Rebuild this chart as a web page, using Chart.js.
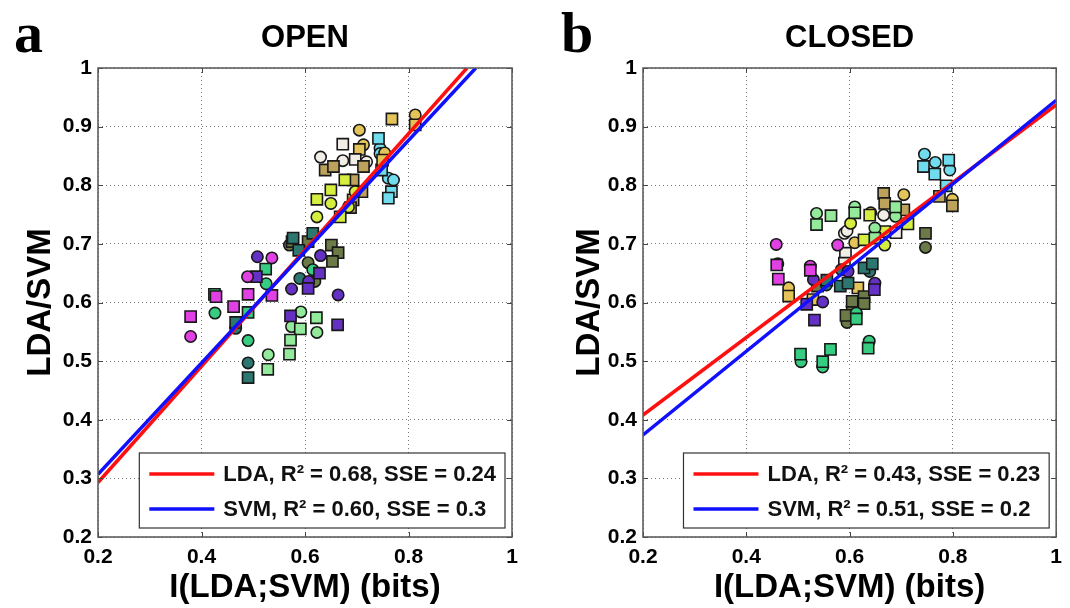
<!DOCTYPE html>
<html><head><meta charset="utf-8">
<script src="https://cdn.jsdelivr.net/npm/chart.js@4.4.1/dist/chart.umd.min.js"></script>
<style>
html,body{margin:0;padding:0;background:#fff;width:1070px;height:608px;overflow:hidden}
.panel{position:absolute;top:0;width:535px;height:608px}
#p1{left:0}#p2{left:535px}
canvas{display:block}
</style></head><body>
<div class="panel" id="p1"><canvas id="c1" width="535" height="608"></canvas></div>
<div class="panel" id="p2"><canvas id="c2" width="535" height="608"></canvas></div>
<script>
// ---------- tick labels ----------
const xTickLabels = ['0.2','0.4','0.6','0.8','1'];
const yTickLabels = ['0.2','0.3','0.4','0.5','0.6','0.7','0.8','0.9','1'];

// ---------- OPEN panel data ([I(LDA;SVM), LDA/SVM]) ----------
const openMagentaCircles = [[0.379,0.542],[0.489,0.644],[0.536,0.676]];
const openMagentaSquares = [[0.379,0.576],[0.462,0.593],[0.490,0.614],[0.536,0.612],[0.428,0.610]];
const openPurpleCircles = [[0.508,0.678],[0.574,0.623],[0.630,0.680],[0.607,0.636],[0.664,0.613]];
const openPurpleSquares = [[0.506,0.644],[0.628,0.650],[0.606,0.624],[0.572,0.577],[0.663,0.562]];
const openGreenCircles = [[0.426,0.582],[0.525,0.632],[0.490,0.535],[0.615,0.656]];
const openGreenSquares = [[0.425,0.614],[0.524,0.657],[0.490,0.583]];
const openTealCircles = [[0.466,0.556],[0.490,0.497],[0.590,0.641]];
const openTealSquares = [[0.466,0.566],[0.490,0.472],[0.577,0.710],[0.615,0.718],[0.588,0.689]];
const openLightGreenCircles = [[0.592,0.584],[0.574,0.559],[0.529,0.511],[0.623,0.549]];
const openLightGreenSquares = [[0.591,0.555],[0.572,0.536],[0.570,0.512],[0.528,0.486],[0.622,0.574]];
const openOliveCircles = [[0.570,0.698],[0.606,0.668],[0.619,0.636]];
const openOliveSquares = [[0.651,0.698],[0.664,0.685],[0.653,0.670],[0.606,0.704],[0.575,0.704]];
const openYellowCircles = [[0.650,0.769],[0.623,0.746],[0.684,0.763],[0.697,0.789]];
const openYellowSquares = [[0.623,0.776],[0.650,0.792],[0.668,0.746],[0.677,0.809]];
const openGoldCircles = [[0.705,0.894],[0.813,0.920],[0.713,0.869],[0.754,0.855]];
const openGoldSquares = [[0.768,0.913],[0.813,0.903],[0.705,0.861],[0.750,0.843]];
const openKhakiCircles = [];
const openKhakiSquares = [[0.639,0.826],[0.655,0.832],[0.713,0.832],[0.693,0.809],[0.710,0.789],[0.693,0.775],[0.688,0.762]];
const openWhiteCircles = [[0.630,0.848],[0.673,0.842],[0.719,0.840]];
const openWhiteSquares = [[0.673,0.870],[0.697,0.844]];
const openCyanCircles = [[0.745,0.863],[0.745,0.854],[0.761,0.812],[0.771,0.809]];
const openCyanSquares = [[0.742,0.880],[0.748,0.826],[0.767,0.789],[0.761,0.778]];
const openFitX = [0.2, 0.913];
const openLdaFitY = [0.293, 1.0];
const openSvmFitX = [0.2, 0.930];
const openSvmFitY = [0.307, 1.0];
const openLegendLabels = ['LDA, R\u00B2 = 0.68, SSE = 0.24', 'SVM, R\u00B2 = 0.60, SSE = 0.3'];

// ---------- CLOSED panel data ----------
const closedMagentaCircles = [[0.458,0.699],[0.577,0.698],[0.524,0.662],[0.461,0.666]];
const closedMagentaSquares = [[0.459,0.664],[0.462,0.640],[0.524,0.655]];
const closedPurpleCircles = [[0.530,0.639],[0.548,0.601],[0.649,0.633],[0.597,0.653]];
const closedPurpleSquares = [[0.517,0.597],[0.532,0.570],[0.648,0.622]];
const closedGreenCircles = [[0.613,0.582],[0.506,0.499],[0.548,0.490],[0.638,0.534]];
const closedGreenSquares = [[0.613,0.572],[0.505,0.512],[0.548,0.499],[0.563,0.520],[0.636,0.522]];
const closedTealCircles = [[0.584,0.656],[0.639,0.653],[0.555,0.630]];
const closedTealSquares = [[0.556,0.638],[0.582,0.628],[0.628,0.659],[0.644,0.666],[0.597,0.633]];
const closedLightGreenCircles = [[0.536,0.752],[0.610,0.763],[0.689,0.747],[0.649,0.727]];
const closedLightGreenSquares = [[0.536,0.733],[0.564,0.748],[0.610,0.753],[0.689,0.763],[0.649,0.710]];
const closedOliveCircles = [[0.595,0.566],[0.605,0.592],[0.747,0.694]];
const closedOliveSquares = [[0.538,0.628],[0.605,0.602],[0.628,0.610],[0.628,0.598],[0.593,0.578],[0.747,0.718]];
const closedYellowCircles = [[0.602,0.735],[0.668,0.698]];
const closedYellowSquares = [[0.639,0.749],[0.628,0.707],[0.668,0.721],[0.713,0.734]];
const closedGoldCircles = [[0.799,0.776],[0.705,0.784],[0.641,0.753],[0.482,0.625],[0.610,0.702]];
const closedGoldSquares = [[0.482,0.611],[0.616,0.625],[0.529,0.605]];
const closedKhakiCircles = [];
const closedKhakiSquares = [[0.774,0.781],[0.799,0.765],[0.666,0.786],[0.705,0.758],[0.668,0.769]];
const closedWhiteCircles = [[0.666,0.749],[0.590,0.718],[0.595,0.722]];
const closedWhiteSquares = [[0.690,0.719],[0.592,0.684],[0.590,0.667]];
const closedCyanCircles = [[0.745,0.853],[0.766,0.839],[0.794,0.826]];
const closedCyanSquares = [[0.743,0.832],[0.765,0.819],[0.792,0.843],[0.787,0.799]];
const closedFitX = [0.2, 1.0];
const closedLdaFitY = [0.408, 0.937];
const closedSvmFitX = [0.2, 1.0];
const closedSvmFitY = [0.374, 0.945];
const closedLegendLabels = ['LDA, R\u00B2 = 0.43, SSE = 0.23', 'SVM, R\u00B2 = 0.51, SSE = 0.2'];

// ---------- styles ----------
const groupColors = {
  magenta:'#e040e4', purple:'#6530c4', green:'#36cc82', teal:'#2c7870',
  lightGreen:'#92ea9a', olive:'#6b7a46', yellow:'#d6ee40', gold:'#e4c458',
  khaki:'#bda25c', white:'#f1eee7', cyan:'#70dcee'
};
const FONT = '"Liberation Sans", Arial, Helvetica, sans-serif';

function toPts(arr){ return arr.map(p => ({x:p[0], y:p[1]})); }

function buildDatasets(groups, fitX, ldaY, svmX, svmY, legendLabels){
  const ds = [];
  ds.push({label:legendLabels[0], data: fitX.map((x,i)=>({x, y:ldaY[i]})), showLine:true,
    borderColor:'#ff1010', backgroundColor:'#ff1010', borderWidth:3.5, pointRadius:0, order:1, isFit:true});
  ds.push({label:legendLabels[1], data: svmX.map((x,i)=>({x, y:svmY[i]})), showLine:true,
    borderColor:'#1010ff', backgroundColor:'#1010ff', borderWidth:3.5, pointRadius:0, order:0, isFit:true});
  groups.forEach(g => {
    const [name, circles, squares] = g;
    if (squares.length) ds.push({label:name+' sq', data:toPts(squares), pointStyle:'rect', pointRadius:7.9,
      backgroundColor:groupColors[name], borderColor:'#181818', borderWidth:1.6, order:2});
    if (circles.length) ds.push({label:name+' ci', data:toPts(circles), pointStyle:'circle', pointRadius:5.7,
      backgroundColor:groupColors[name], borderColor:'#181818', borderWidth:1.6, order:2});
  });
  return ds;
}

const openGroups = [
  ['magenta', openMagentaCircles, openMagentaSquares], ['purple', openPurpleCircles, openPurpleSquares],
  ['green', openGreenCircles, openGreenSquares], ['teal', openTealCircles, openTealSquares],
  ['lightGreen', openLightGreenCircles, openLightGreenSquares], ['olive', openOliveCircles, openOliveSquares],
  ['yellow', openYellowCircles, openYellowSquares], ['khaki', openKhakiCircles, openKhakiSquares],
  ['white', openWhiteCircles, openWhiteSquares], ['gold', openGoldCircles, openGoldSquares],
  ['cyan', openCyanCircles, openCyanSquares]
];
const closedGroups = [
  ['magenta', closedMagentaCircles, closedMagentaSquares], ['purple', closedPurpleCircles, closedPurpleSquares],
  ['green', closedGreenCircles, closedGreenSquares], ['teal', closedTealCircles, closedTealSquares],
  ['lightGreen', closedLightGreenCircles, closedLightGreenSquares], ['olive', closedOliveCircles, closedOliveSquares],
  ['yellow', closedYellowCircles, closedYellowSquares], ['khaki', closedKhakiCircles, closedKhakiSquares],
  ['white', closedWhiteCircles, closedWhiteSquares], ['gold', closedGoldCircles, closedGoldSquares],
  ['cyan', closedCyanCircles, closedCyanSquares]
];

// plugin: box, inward ticks, panel title/letter, legend
const panelPlugin = {
  id:'panelDeco',
  afterDraw(chart, args, opts){
    const ctx = chart.ctx, a = chart.chartArea;
    const xs = chart.scales.x, ys = chart.scales.y;
    ctx.save();
    // inward ticks
    ctx.strokeStyle = '#444'; ctx.lineWidth = 1;
    ctx.beginPath();
    xs.ticks.forEach(t => { const px = Math.round(xs.getPixelForValue(t.value))+0.5;
      ctx.moveTo(px, a.bottom); ctx.lineTo(px, a.bottom-5); ctx.moveTo(px, a.top); ctx.lineTo(px, a.top+5); });
    ys.ticks.forEach(t => { const py = Math.round(ys.getPixelForValue(t.value))+0.5;
      ctx.moveTo(a.left, py); ctx.lineTo(a.left+5, py); ctx.moveTo(a.right, py); ctx.lineTo(a.right-5, py); });
    ctx.stroke();
    // box
    ctx.strokeStyle = '#555'; ctx.lineWidth = 1.5;
    ctx.strokeRect(a.left, a.top, a.right-a.left, a.bottom-a.top);
    // legend
    const fits = chart.data.datasets.filter(d => d.isFit);
    ctx.font = 'bold 22px ' + FONT;
    const tw = Math.max(...fits.map(d => ctx.measureText(d.label).width));
    const bw = 84 + tw + 9, bh = 75;
    const bx = a.right - 7 - bw, by = a.bottom - 9 - bh;
    ctx.fillStyle = '#fff'; ctx.fillRect(bx, by, bw, bh);
    ctx.strokeStyle = '#333'; ctx.lineWidth = 1.2; ctx.strokeRect(bx, by, bw, bh);
    fits.forEach((d,i) => {
      const cy = by + 21 + i*35;
      ctx.strokeStyle = d.borderColor; ctx.lineWidth = 3.5;
      ctx.beginPath(); ctx.moveTo(bx+10, cy); ctx.lineTo(bx+75, cy); ctx.stroke();
      ctx.fillStyle = '#111'; ctx.textAlign = 'left'; ctx.textBaseline = 'middle';
      ctx.fillText(d.label, bx+84, cy+1);
    });
    // title & panel letter
    ctx.fillStyle = '#000';
    ctx.font = 'bold 31px ' + FONT; ctx.textAlign = 'center'; ctx.textBaseline = 'middle';
    ctx.fillText(opts.title, (a.left+a.right)/2, 38);
    ctx.font = 'bold 58px "Liberation Serif", "Times New Roman", serif'; ctx.textAlign = 'left'; ctx.textBaseline = 'alphabetic';
    ctx.fillText(opts.letter, opts.letterX, 52);
    ctx.restore();
  }
};

function makeOptions(yAxisWidth, rightPad, yTitlePad, title, letter, letterX){
  return {
    responsive:false, animation:false, devicePixelRatio:1,
    layout:{padding:{top:68, right:rightPad, left:0, bottom:0}},
    plugins:{legend:{display:false}, tooltip:{enabled:false}, title:{display:false},
      panelDeco:{title, letter, letterX}},
    scales:{
      x:{type:'linear', min:0.2, max:1,
        ticks:{stepSize:0.2, color:'#000', padding:8, font:{family:FONT, size:21, weight:'bold'},
          callback:(v,i)=>xTickLabels[i]},
        grid:{color:'#7a7a7a', lineWidth:1, drawTicks:false}, border:{display:false, dash:[1,3]},
        title:{display:true, text:'I(LDA;SVM) (bits)', color:'#000', padding:{top:0,bottom:0},
          font:{family:FONT, size:33, weight:'bold'}},
        afterFit:(s)=>{ s.height = 71; }
      },
      y:{type:'linear', min:0.2, max:1,
        ticks:{stepSize:0.1, color:'#000', padding:6, font:{family:FONT, size:21, weight:'bold'},
          callback:(v,i)=>yTickLabels[i]},
        grid:{color:'#7a7a7a', lineWidth:1, drawTicks:false}, border:{display:false, dash:[1,3]},
        title:{display:true, text:'LDA/SVM', color:'#000', padding:{top:yTitlePad,bottom:0},
          font:{family:FONT, size:33, weight:'bold'}},
        afterFit:(s)=>{ s.width = yAxisWidth; }
      }
    }
  };
}

Chart.register(panelPlugin);
new Chart(document.getElementById('c1'), {
  type:'scatter',
  data:{datasets:buildDatasets(openGroups, openFitX, openLdaFitY, openSvmFitX, openSvmFitY, openLegendLabels)},
  options:makeOptions(98, 23, 21, 'OPEN', 'a', 14)
});
new Chart(document.getElementById('c2'), {
  type:'scatter',
  data:{datasets:buildDatasets(closedGroups, closedFitX, closedLdaFitY, closedSvmFitX, closedSvmFitY, closedLegendLabels)},
  options:makeOptions(108, 13, 35, 'CLOSED', 'b', 26)
});
</script>
</body></html>
